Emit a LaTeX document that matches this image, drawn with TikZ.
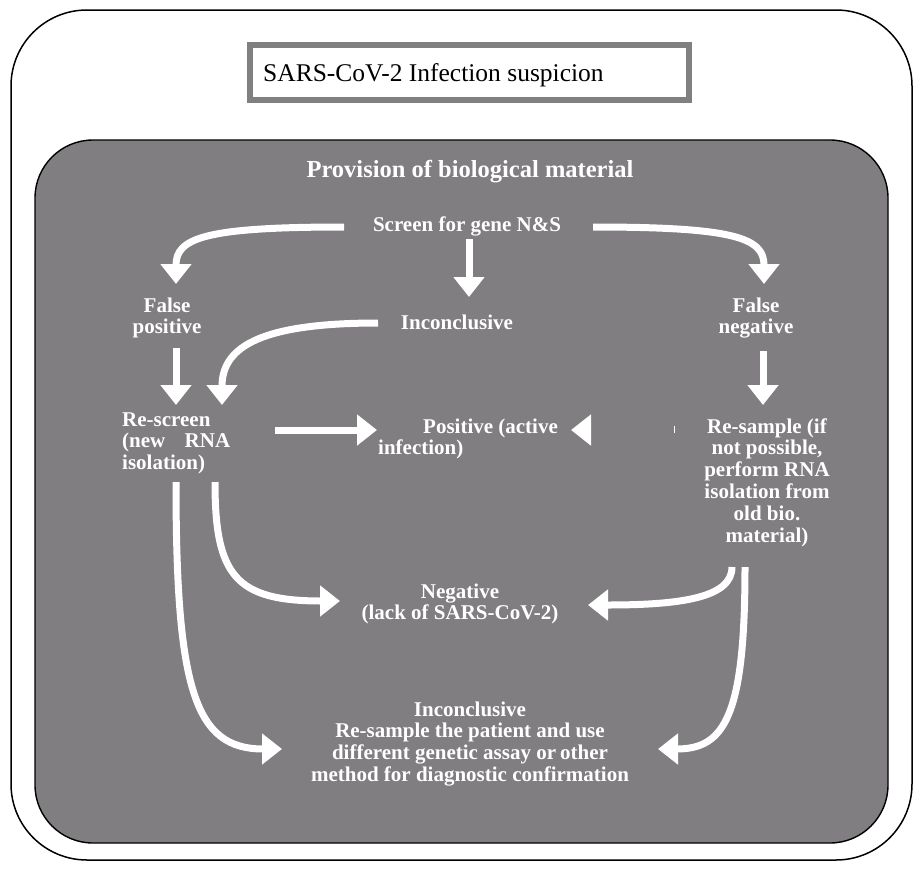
\documentclass[tikz,border=0pt]{standalone}
\usepackage{fontspec}
\setmainfont{Liberation Serif}
\usetikzlibrary{arrows.meta}
\definecolor{boxgray}{RGB}{128,126,128}
\definecolor{framegray}{RGB}{128,128,128}
\newcommand\flowfont{\fontsize{21}{21.8}\selectfont\bfseries}
\newcommand\mlines[2]{\begin{tabular}[t]{@{}#1@{}}#2\end{tabular}}
\begin{document}
\begin{tikzpicture}[x=1pt,y=-1pt,
  lbl/.style={text=white, font=\flowfont, inner sep=0pt, anchor=base},
  warr/.style={draw=white, line width=7pt, -{Triangle[length=20pt,width=30pt]}},
  tick/.style={draw=white, line width=1pt}]
\useasboundingbox (0,0) rectangle (916,868);
% outer frame
\draw[line width=1.5pt, rounded corners=76pt] (11,10) rectangle (912,860);
% top box
\draw[framegray, line width=6pt] (250,45) rectangle (689,100);
\node[anchor=base west, inner sep=0pt, font=\fontsize{25.5}{28}\selectfont] (susp) at (263,81) {SARS-CoV-2 Infection suspicion};
% gray panel
\draw[fill=boxgray, line width=1.4pt, rounded corners=58pt] (35,140) rectangle (888,843);
% texts
\node[lbl, font=\fontsize{24.5}{26}\selectfont\bfseries] (prov) at (470,177) {Provision of biological material};
\node[lbl] (screen) at (467,231) {Screen for gene N\&S};
\node[lbl] (fpos) at (167,312) {\mlines{c}{False\\positive}};
\node[lbl] (inc1) at (457,329) {Inconclusive};
\node[lbl] (fneg) at (756,312) {\mlines{c}{False\\negative}};
\node[lbl, anchor=base west] (rescr) at (122,426) {\mlines{l}{Re-screen\\\makebox[108pt][s]{(new RNA}\\isolation)}};
\node[lbl, anchor=base west] (pos) at (378,433) {\mlines{l}{\hspace{45pt}Positive (active\\infection)}};
\node[lbl] (resamp) at (767,433) {\mlines{c}{Re-sample (if\\not possible,\\perform RNA\\isolation from\\old bio.\\material)}};
\node[lbl] (neg) at (460,598) {\mlines{c}{Negative\\(lack of SARS-CoV-2)}};
\node[lbl] (inc2) at (470,716) {\mlines{c}{Inconclusive\\Re-sample the patient and use\\different genetic assay or\hspace{4pt}other\\method for diagnostic confirmation}};
% connector end points
\coordinate (a1s) at (344,227); \coordinate (a1e) at (176,284);
\coordinate (a2s) at (469,239); \coordinate (a2e) at (469,297);
\coordinate (a3s) at (593,227); \coordinate (a3e) at (764,284);
\coordinate (a4s) at (176,348); \coordinate (a4e) at (176,405);
\coordinate (a5s) at (378,323); \coordinate (a5e) at (222,405);
\coordinate (a6s) at (763,351); \coordinate (a6e) at (763,405);
\coordinate (a7s) at (275,430); \coordinate (a7e) at (377,430);
\coordinate (a8s) at (591,430); \coordinate (a8e) at (571,430);
\coordinate (t1) at (674,426); \coordinate (t2) at (674,433);
\coordinate (b1s) at (176,482); \coordinate (b1e) at (282,749);
\coordinate (b2s) at (215,482); \coordinate (b2e) at (340,601);
\coordinate (b3s) at (732,567); \coordinate (b3e) at (588,605);
\coordinate (b4s) at (745,567); \coordinate (b4e) at (658,749);
% connectors
\draw[warr] (a1s) .. controls (205,227) and (176,238) .. (a1e);
\draw[warr] (a2s) -- (a2e);
\draw[warr] (a3s) .. controls (735,227) and (764,238) .. (a3e);
\draw[warr] (a4s) -- (a4e);
\draw[warr] (a5s) .. controls (265,323) and (222,345) .. (a5e);
\draw[warr] (a6s) -- (a6e);
\draw[warr] (a7s) -- (a7e);
\draw[warr] (a8s) -- (a8e);
\draw[tick] (t1) -- (t2);
\draw[warr] (b1s) .. controls (176,690) and (195,749) .. (b1e);
\draw[warr] (b2s) .. controls (215,575) and (235,601) .. (b2e);
\draw[warr] (b3s) .. controls (732,598) and (680,605) .. (b3e);
\draw[warr] (b4s) .. controls (745,715) and (725,749) .. (b4e);
\end{tikzpicture}
\end{document}
